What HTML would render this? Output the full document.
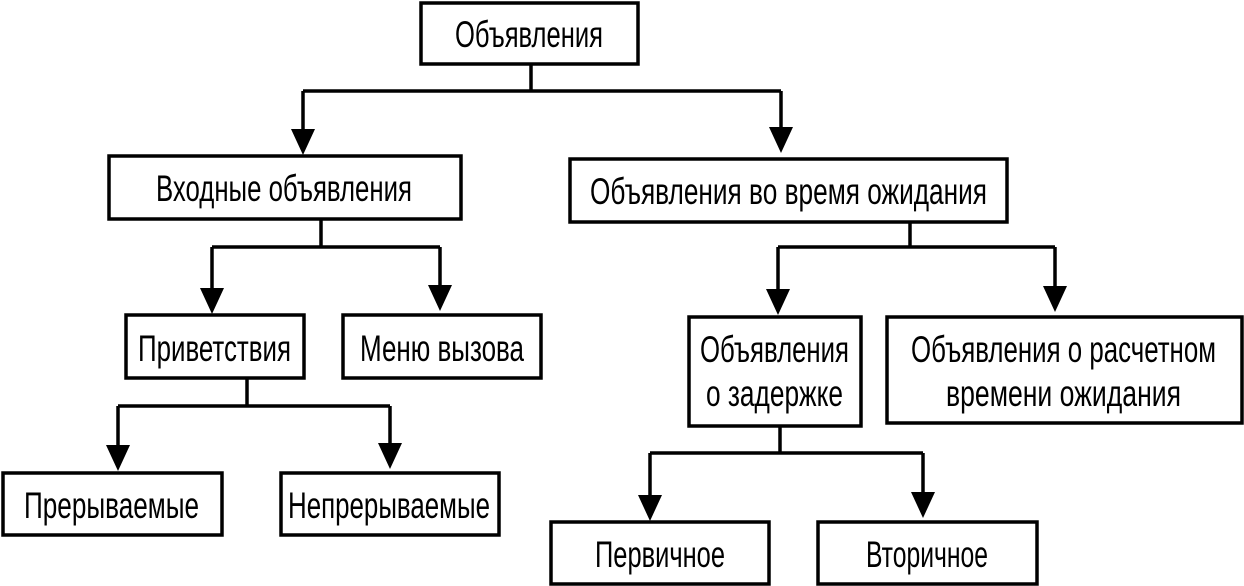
<!DOCTYPE html>
<html><head><meta charset="utf-8"><style>
html,body{margin:0;padding:0;background:#fff;}
svg{display:block;}
text{font-family:"Liberation Sans","DejaVu Sans",sans-serif;font-size:37px;fill:#000;}
</style></head><body>
<svg width="1244" height="586" viewBox="0 0 1244 586" xmlns="http://www.w3.org/2000/svg">
<g fill="#fff" stroke="#000" stroke-width="3.5">
<rect x="421" y="3" width="217" height="61"/>
<rect x="109" y="156" width="352" height="63"/>
<rect x="570" y="159" width="437" height="63"/>
<rect x="126" y="315" width="178" height="63"/>
<rect x="343" y="315" width="198" height="63"/>
<rect x="689" y="317" width="172" height="109"/>
<rect x="887" y="317" width="355" height="106"/>
<rect x="3" y="473" width="219" height="62"/>
<rect x="281" y="473" width="218" height="62"/>
<rect x="551" y="522" width="218" height="62"/>
<rect x="818" y="522" width="219" height="62"/>
</g>
<g fill="none" stroke="#000" stroke-width="3.5">
<path d="M531 64V91M303 91H781M303 91V135M781 91V133"/>
<path d="M321 219V247M212 247H440M212 247V295M440 247V292"/>
<path d="M910 222V247M778 247H1055M778 247V296M1055 247V293"/>
<path d="M247 378V406M118 406H390M118 406V450M390 406V448"/>
<path d="M780 426V453M650 453H923M650 453V500M923 453V497"/>
</g>
<g fill="#000">
<path d="M291 129L315 129L303 155Z"/>
<path d="M769 127L793 127L781 153Z"/>
<path d="M200 288L224 288L212 314Z"/>
<path d="M428 285L452 285L440 311Z"/>
<path d="M766 289L790 289L778 315Z"/>
<path d="M1043 286L1067 286L1055 312Z"/>
<path d="M106 445L130 445L118 471Z"/>
<path d="M378 443L402 443L390 469Z"/>
<path d="M638 495L662 495L650 521Z"/>
<path d="M911 492L935 492L923 518Z"/>
</g>
<g>
<text x="455" y="47" textLength="148" lengthAdjust="spacingAndGlyphs">Объявления</text>
<text x="156" y="201" textLength="256" lengthAdjust="spacingAndGlyphs">Входные объявления</text>
<text x="590" y="204" textLength="397" lengthAdjust="spacingAndGlyphs">Объявления во время ожидания</text>
<text x="138" y="361" textLength="153" lengthAdjust="spacingAndGlyphs">Приветствия</text>
<text x="360" y="361" textLength="164" lengthAdjust="spacingAndGlyphs">Меню вызова</text>
<text x="700" y="362" textLength="149" lengthAdjust="spacingAndGlyphs">Объявления</text>
<text x="706" y="406" textLength="137" lengthAdjust="spacingAndGlyphs">о задержке</text>
<text x="911" y="362" textLength="305" lengthAdjust="spacingAndGlyphs">Объявления о расчетном</text>
<text x="946" y="406" textLength="235" lengthAdjust="spacingAndGlyphs">времени ожидания</text>
<text x="24" y="518" textLength="175" lengthAdjust="spacingAndGlyphs">Прерываемые</text>
<text x="288" y="518" textLength="202" lengthAdjust="spacingAndGlyphs">Непрерываемые</text>
<text x="595" y="567" textLength="130" lengthAdjust="spacingAndGlyphs">Первичное</text>
<text x="866" y="567" textLength="122" lengthAdjust="spacingAndGlyphs">Вторичное</text>
</g>
</svg>
</body></html>
